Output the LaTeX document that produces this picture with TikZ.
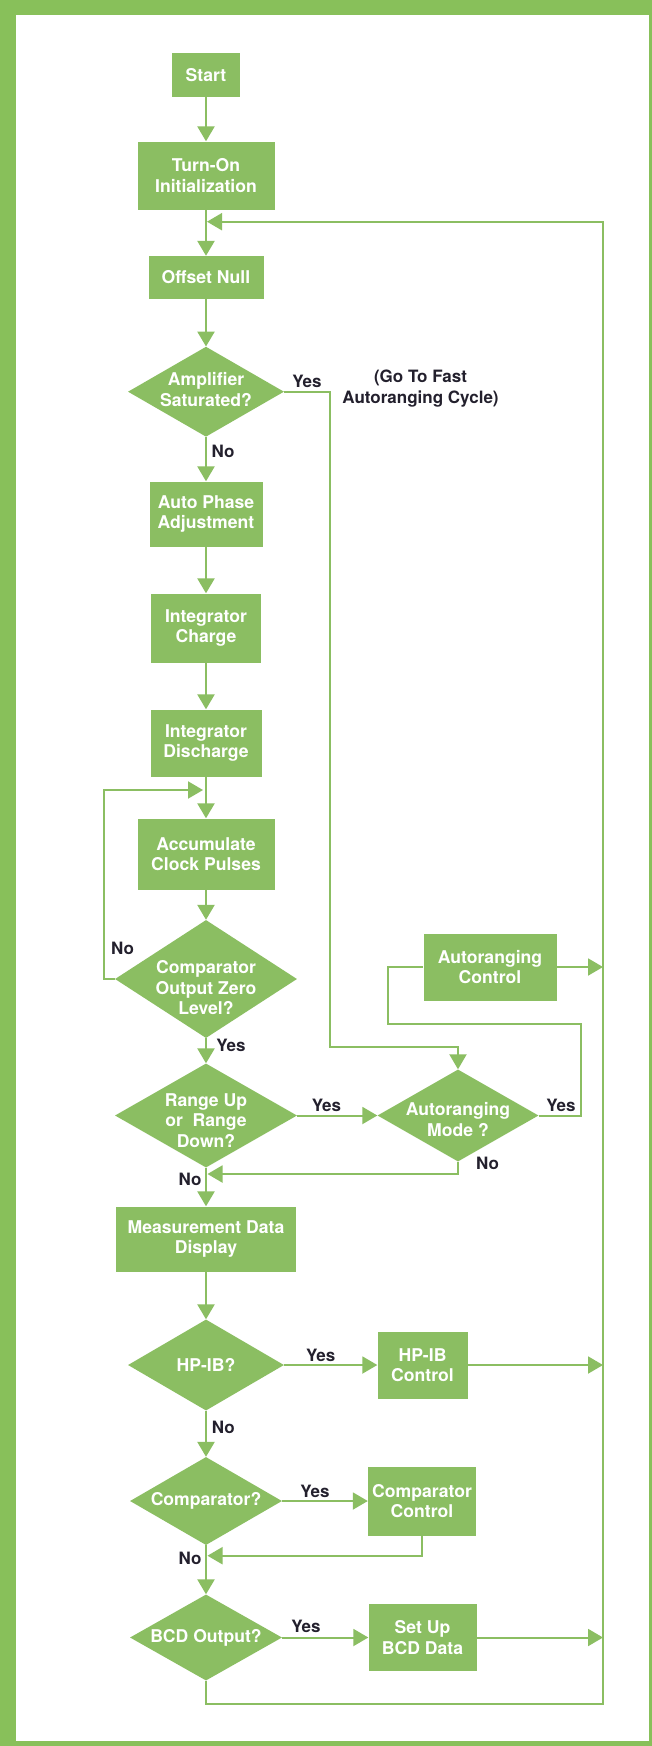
\documentclass[tikz,border=0pt]{standalone}
\usepackage{fontspec}
\setmainfont{TeX Gyre Heros}
\usepackage{xcolor}
\usepackage{tikz}
\usetikzlibrary{shapes.geometric, arrows.meta}
\definecolor{flowgreen}{RGB}{139,190,98}
\definecolor{framegreen}{RGB}{136,192,90}
\definecolor{labelink}{RGB}{35,32,45}
\newcommand{\flowfont}{\bfseries\fontsize{17.6}{20.5}\selectfont}
\newcommand{\ansfont}{\bfseries\fontsize{17}{20.5}\selectfont}
\tikzstyle{blk} = [rectangle, inner sep=0pt, align=center, text=white, fill=flowgreen, font=\flowfont]
\tikzstyle{dec} = [diamond, inner sep=0pt, fill=flowgreen]
\tikzstyle{dectext} = [align=center, text=white, font=\flowfont]
\tikzstyle{ans} = [text=labelink, font=\ansfont]
\tikzstyle{arrow} = [line width=2.5pt, draw=flowgreen, -{Triangle[length=15pt,width=17pt]}]
\tikzstyle{wire} = [line width=2pt, draw=flowgreen]
\tikzstyle{warrow} = [wire, -{Triangle[length=15pt,width=17pt]}]

\begin{document}
\begin{tikzpicture}[x=1pt, y=-1pt]

\useasboundingbox (0,0) rectangle (652,1746);
\fill [framegreen] (0,0) rectangle (652,1746);
\fill [white] (16,15) rectangle (648.5,1740.5);

% main column
\node (start) [blk, minimum width=68pt, minimum height=44pt] at (206,75) {Start};
\node (init) [blk, minimum width=137pt, minimum height=68pt] at (206,175.5) {Turn-On\\Initialization};
\node (null) [blk, minimum width=115pt, minimum height=43pt] at (206,277.5) {Offset Null};
\node (sat) [dec, minimum width=156pt, minimum height=90pt,
  label={[dectext, yshift=2pt]center:Amplifier\\Saturated?}] at (206,391.7) {};
\node (phase) [blk, minimum width=113pt, minimum height=65pt] at (206,514) {Auto Phase\\Adjustment};
\node (charge) [blk, minimum width=110pt, minimum height=69pt] at (206,628) {Integrator\\Charge};
\node (dischg) [blk, minimum width=111pt, minimum height=67pt] at (206,743) {Integrator\\Discharge};
\node (accum) [blk, minimum width=137pt, minimum height=71pt] at (206,854) {Accumulate\\Clock Pulses};
\node (zero) [dec, minimum width=182pt, minimum height=118pt,
  label={[dectext, yshift=-9pt]center:Comparator\\Output Zero\\Level?}] at (206,979) {};
\node (range) [dec, minimum width=182pt, minimum height=104pt,
  label={[dectext, yshift=-5pt]center:Range Up\\or~~Range\\Down?}] at (206,1115.5) {};
\node (disp) [blk, minimum width=180pt, minimum height=65pt] at (206,1239) {Measurement Data\\Display};
\node (hpib) [dec, minimum width=156pt, minimum height=91pt,
  label={[dectext]center:HP-IB?}] at (206,1365) {};
\node (cmp) [dec, minimum width=152pt, minimum height=88pt,
  label={[dectext]center:Comparator?}] at (206,1501) {};
\node (bcd) [dec, minimum width=152pt, minimum height=86pt,
  label={[dectext]center:BCD Output?}] at (206,1637.5) {};

% right side
\node (mode) [dec, minimum width=161pt, minimum height=92pt,
  label={[dectext, yshift=-4pt]center:Autoranging\\Mode ?}] at (458,1115.5) {};
\node (autoctl) [blk, minimum width=133pt, minimum height=67pt] at (490,967) {Autoranging\\Control};
\node (hpibctl) [blk, minimum width=90pt, minimum height=67pt] at (422.5,1365) {HP-IB\\Control};
\node (cmpctl) [blk, minimum width=108pt, minimum height=69pt] at (422,1501) {Comparator\\Control};
\node (bcdctl) [blk, minimum width=108pt, minimum height=67pt] at (422.5,1637.5) {Set Up\\BCD Data};

\coordinate (rail) at (603,221.7);
\coordinate (railbot) at (603,1704);
\coordinate (loopin) at (207,221.7);
\coordinate (satbend) at (330,1046.7);
\coordinate (modeup) at (581,1024.3);
\coordinate (ctlin) at (388.4,967);
\coordinate (loopcorner) at (104,790);
\coordinate (accin) at (203,790);
\coordinate (modeback) at (207.5,1174);
\coordinate (cmpback) at (207.5,1555.7);

\draw [arrow] (start) -- (init);
\draw [arrow] (init) -- (null);
\draw [arrow] (null) -- (sat);
\draw [arrow] (sat) -- (phase);
\draw [arrow] (phase) -- (charge);
\draw [arrow] (charge) -- (dischg);
\draw [arrow] (dischg) -- (accum);
\draw [arrow] (accum) -- (zero);
\draw [arrow] (zero) -- (range);
\draw [arrow] (range) -- (disp);
\draw [arrow] (disp) -- (hpib);
\draw [arrow] (hpib) -- (cmp);
\draw [arrow] (cmp) -- (bcd);

\draw [warrow] (sat.east) -| (satbend) -| (mode.north);
\draw [warrow] (zero.west) -| (loopcorner) -- (accin);
\draw [warrow] (range.east) -- (mode.west);
\draw [wire] (mode.east) -| (modeup) -| (ctlin) -- (autoctl.west);
\draw [warrow] (autoctl.east) -- (autoctl.east -| rail);
\draw [warrow] (mode.south) |- (modeback);
\draw [warrow] (hpib.east) -- (hpibctl.west);
\draw [warrow] (hpibctl.east) -- (hpibctl.east -| rail);
\draw [warrow] (cmp.east) -- (cmpctl.west);
\draw [warrow] (cmpctl.south) |- (cmpback);
\draw [warrow] (bcd.east) -- (bcdctl.west);
\draw [warrow] (bcdctl.east) -- (bcdctl.east -| rail);
\draw [warrow] (bcd.south) |- (railbot) -- (rail) -- (loopin);

% answers
\node (ysat) [ans] at (307,381.7) {Yes};
\node (nsat) [ans] at (223,451.7) {No};
\node (fast) [ans, align=center] at (420.5,388.7) {(Go To Fast\\Autoranging Cycle)};
\node (nzero) [ans] at (122.5,948) {No};
\node (yzero) [ans] at (231,1045) {Yes};
\node (yrange) [ans] at (326.5,1105) {Yes};
\node (ymode) [ans] at (561,1105) {Yes};
\node (nmode) [ans] at (487.5,1163.3) {No};
\node (nrange) [ans] at (190,1179) {No};
\node (yhpib) [ans] at (320.7,1355) {Yes};
\node (nhpib) [ans] at (223.3,1427.3) {No};
\node (ycmp) [ans] at (315,1491.7) {Yes};
\node (ncmp) [ans] at (190,1558.3) {No};
\node (ybcd) [ans] at (306,1626.7) {Yes};

\end{tikzpicture}
\end{document}
